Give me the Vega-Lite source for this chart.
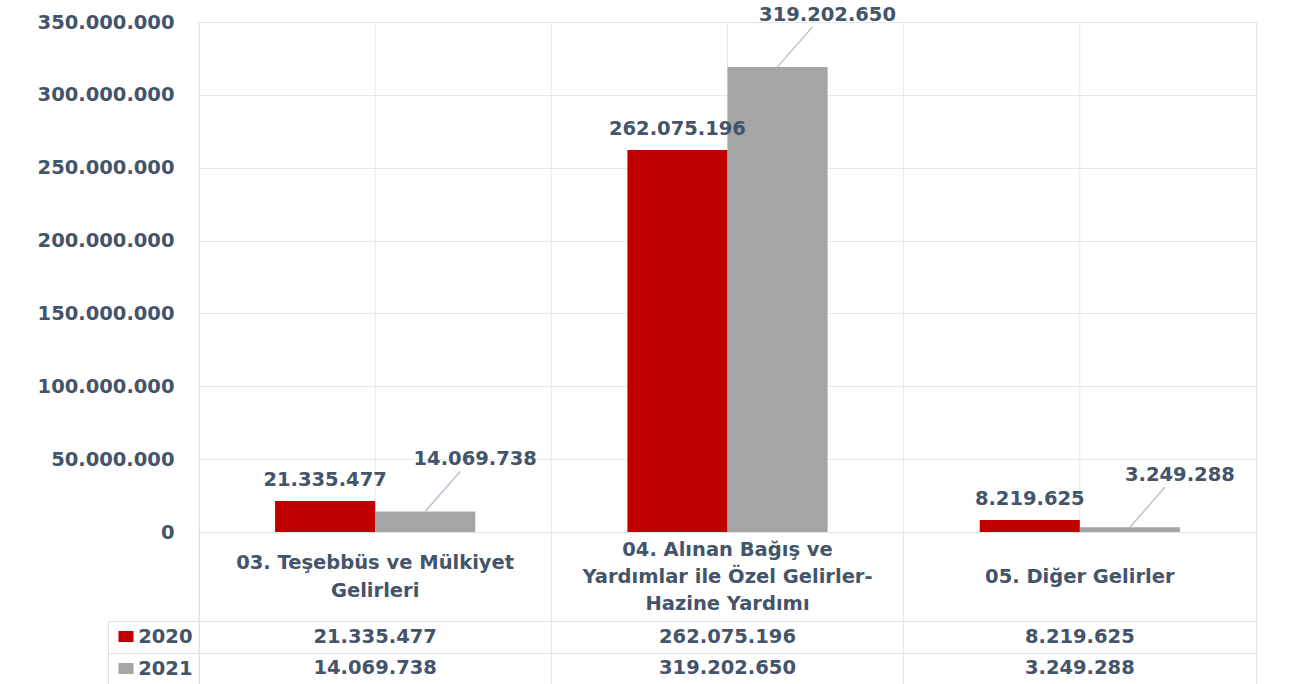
{
  "$schema": "https://vega.github.io/schema/vega-lite/v6.json",
  "padding": {"left": 36, "top": 4, "right": 0, "bottom": 0},
  "background": "white",
  "bounds": "flush",
  "spacing": 0,
  "config": {
    "locale": {"number": {"decimal": ",", "thousands": ".", "grouping": [3], "currency": ["", " TL"]}},
    "view": {"stroke": "#DDE2EA", "strokeWidth": 1},
    "font": "DejaVu Sans",
    "text": {"font": "DejaVu Sans", "fontWeight": "bold", "fontSize": 19.5, "color": "#44546A"}
  },
  "data": {"values": [
    {"cat": "03. Teşebbüs ve Mülkiyet\nGelirleri", "year": "2020", "value": 21335477},
    {"cat": "03. Teşebbüs ve Mülkiyet\nGelirleri", "year": "2021", "value": 14069738},
    {"cat": "04. Alınan Bağış ve\nYardımlar ile Özel Gelirler-\nHazine Yardımı", "year": "2020", "value": 262075196},
    {"cat": "04. Alınan Bağış ve\nYardımlar ile Özel Gelirler-\nHazine Yardımı", "year": "2021", "value": 319202650},
    {"cat": "05. Diğer Gelirler", "year": "2020", "value": 8219625},
    {"cat": "05. Diğer Gelirler", "year": "2021", "value": 3249288}
  ]},
  "vconcat": [
    {
      "width": 1057,
      "height": 510,
      "layer": [
        {
          "transform": [{"filter": "datum.year === '2020'"}],
          "mark": {"type": "rule", "color": "#E4E8EE"},
          "encoding": {"x": {"field": "cat", "type": "nominal", "bandPosition": 0.5, "axis": null, "scale": {"type": "band", "paddingInner": 0, "paddingOuter": 0}}}
        },
        {
          "transform": [{"filter": "datum.year === '2020'"}],
          "mark": {"type": "rule", "color": "#E4E8EE"},
          "encoding": {"x": {"field": "cat", "type": "nominal", "bandPosition": 0, "axis": null, "scale": {"type": "band", "paddingInner": 0, "paddingOuter": 0}}}
        },
        {
          "mark": {"type": "bar"},
          "encoding": {
            "x": {"field": "cat", "type": "nominal", "axis": null, "scale": {"type": "band", "paddingInner": 0, "paddingOuter": 0}},
            "xOffset": {"field": "year", "type": "nominal", "scale": {"paddingInner": 0, "paddingOuter": 0.76}},
            "y": {"field": "value", "type": "quantitative", "stack": null,
              "scale": {"domain": [0, 350000000], "nice": false},
              "axis": {"title": null, "values": [0, 50000000, 100000000, 150000000, 200000000, 250000000, 300000000, 350000000], "format": ",d", "labelFont": "DejaVu Sans", "labelFontWeight": "bold", "labelFontSize": 19.5, "labelColor": "#44546A", "ticks": false, "domain": false, "labelPadding": 25, "gridColor": "#E4E8EE"}},
            "color": {"field": "year", "type": "nominal", "scale": {"domain": ["2020", "2021"], "range": ["#C00000", "#A5A5A5"]}, "legend": null}
          }
        },
        {
          "transform": [{"filter": "datum.year === '2021'"}],
          "mark": {"type": "rule", "color": "#B8C3D3", "strokeWidth": 1.5, "xOffset": 50, "x2Offset": 85, "y2Offset": -40},
          "encoding": {
            "x": {"field": "cat", "type": "nominal", "axis": null, "scale": {"type": "band", "paddingInner": 0, "paddingOuter": 0}},
            "x2": {"field": "cat"},
            "y": {"field": "value", "type": "quantitative"},
            "y2": {"field": "value"}
          }
        },
        {
          "transform": [{"filter": "datum.year === '2020'"}],
          "mark": {"type": "text", "dy": -21},
          "encoding": {
            "x": {"field": "cat", "type": "nominal", "axis": null, "scale": {"type": "band", "paddingInner": 0, "paddingOuter": 0}},
            "xOffset": {"field": "year", "type": "nominal"},
            "y": {"field": "value", "type": "quantitative"},
            "text": {"field": "value", "type": "quantitative", "format": ",d"}
          }
        },
        {
          "transform": [{"filter": "datum.year === '2021'"}],
          "mark": {"type": "text", "dx": 50, "dy": -52},
          "encoding": {
            "x": {"field": "cat", "type": "nominal", "axis": null, "scale": {"type": "band", "paddingInner": 0, "paddingOuter": 0}},
            "xOffset": {"field": "year", "type": "nominal"},
            "y": {"field": "value", "type": "quantitative"},
            "text": {"field": "value", "type": "quantitative", "format": ",d"}
          }
        }
      ]
    },
    {
      "width": 1057,
      "height": 89,
      "transform": [{"filter": "datum.year === '2020'"}],
      "layer": [
        {
          "mark": {"type": "rule", "color": "#DDE2EA"},
          "encoding": {"x": {"field": "cat", "type": "nominal", "bandPosition": 0, "axis": null, "scale": {"type": "band", "paddingInner": 0, "paddingOuter": 0}}}
        },
        {
          "transform": [{"filter": "length(split(datum.cat, '\\n')) === 1"}],
          "mark": {"type": "text", "lineBreak": "\n", "lineHeight": 27},
          "encoding": {
            "x": {"field": "cat", "type": "nominal", "axis": null, "scale": {"type": "band", "paddingInner": 0, "paddingOuter": 0}},
            "text": {"field": "cat"}
          }
        },
        {
          "transform": [{"filter": "length(split(datum.cat, '\\n')) === 2"}],
          "mark": {"type": "text", "lineBreak": "\n", "lineHeight": 28, "dy": -14},
          "encoding": {
            "x": {"field": "cat", "type": "nominal", "axis": null, "scale": {"type": "band", "paddingInner": 0, "paddingOuter": 0}},
            "text": {"field": "cat"}
          }
        },
        {
          "transform": [{"filter": "length(split(datum.cat, '\\n')) === 3"}],
          "mark": {"type": "text", "lineBreak": "\n", "lineHeight": 27, "dy": -27},
          "encoding": {
            "x": {"field": "cat", "type": "nominal", "axis": null, "scale": {"type": "band", "paddingInner": 0, "paddingOuter": 0}},
            "text": {"field": "cat"}
          }
        }
      ]
    },
    {
      "width": 1057,
      "height": 63,
      "resolve": {"axis": {"y": "independent"}},
      "layer": [
        {
          "transform": [{"filter": "datum.year === '2020'"}],
          "mark": {"type": "rule", "color": "#DDE2EA"},
          "encoding": {"x": {"field": "cat", "type": "nominal", "bandPosition": 0, "axis": null, "scale": {"type": "band", "paddingInner": 0, "paddingOuter": 0}}}
        },
        {
          "mark": {"type": "text"},
          "encoding": {
            "x": {"field": "cat", "type": "nominal", "axis": null, "scale": {"type": "band", "paddingInner": 0, "paddingOuter": 0}},
            "y": {"field": "year", "type": "nominal", "scale": {"type": "band", "domain": ["2020", "2021"], "paddingInner": 0, "paddingOuter": 0},
              "axis": {"orient": "left", "title": null, "domain": false, "ticks": true, "tickBand": "extent", "tickSize": 91, "tickColor": "#DDE2EA", "grid": true, "gridColor": "#DDE2EA", "labelFont": "DejaVu Sans", "labelFontWeight": "bold", "labelFontSize": 19.5, "labelColor": "#44546A", "labelPadding": -84, "labelAlign": "right"}},
            "text": {"field": "value", "type": "quantitative", "format": ",d"}
          }
        },
        {
          "mark": {"type": "text", "opacity": 0},
          "encoding": {
            "x": {"field": "cat", "type": "nominal", "axis": null, "scale": {"type": "band", "paddingInner": 0, "paddingOuter": 0}},
            "y": {"field": "year", "type": "nominal",
              "axis": {"orient": "left", "title": null, "domain": false, "labels": false, "grid": false, "ticks": true, "tickSize": 15, "tickWidth": 11, "offset": 66,
                "tickColor": {"condition": {"test": "datum.value === '2020'", "value": "#C00000"}, "value": "#A5A5A5"}}},
            "text": {"field": "value", "type": "quantitative", "format": ",d"}
          }
        },
        {
          "mark": {"type": "text", "opacity": 0},
          "encoding": {
            "x": {"field": "cat", "type": "nominal", "axis": null, "scale": {"type": "band", "paddingInner": 0, "paddingOuter": 0}},
            "y": {"field": "year", "type": "nominal",
              "axis": {"orient": "left", "title": null, "domain": true, "domainColor": "#DDE2EA", "labels": false, "grid": false, "ticks": false, "offset": 91}},
            "text": {"field": "value", "type": "quantitative", "format": ",d"}
          }
        }
      ]
    }
  ]
}
